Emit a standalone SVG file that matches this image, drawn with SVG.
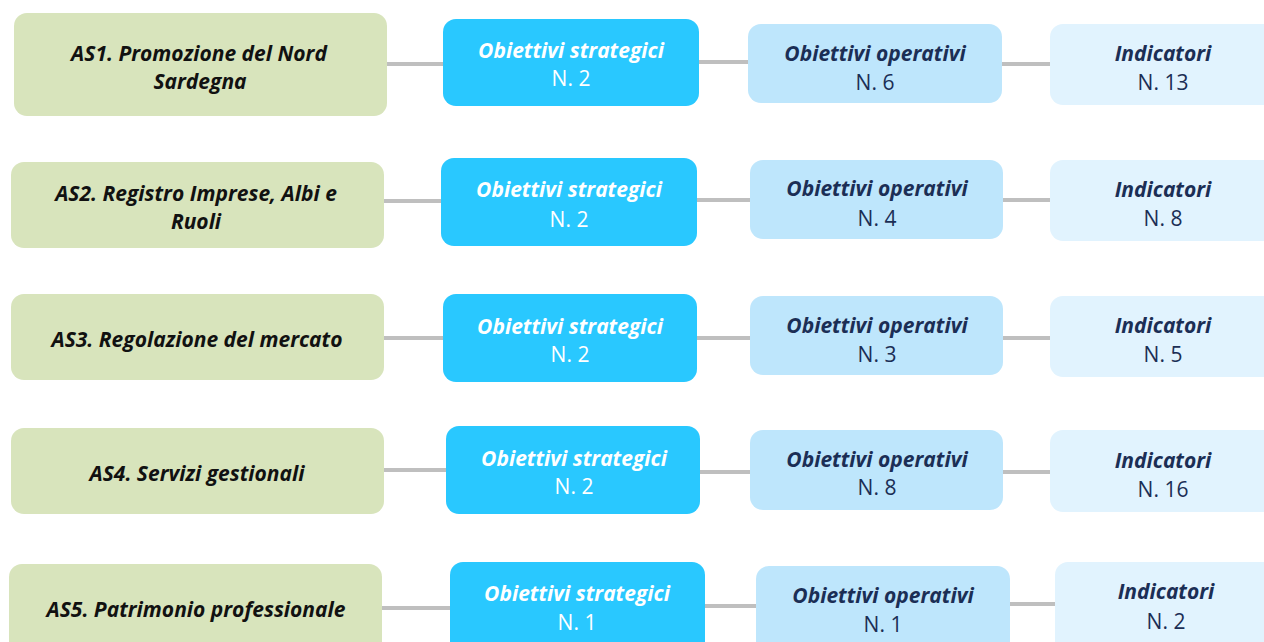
<svg xmlns="http://www.w3.org/2000/svg" width="1264" height="642" viewBox="0 0 1264 642">
<style>
.g{fill:#D8E4BC}
.s{fill:#29C8FF}
.o{fill:#BEE6FC}
.i{fill:#E1F3FE}
.c{stroke:#BFBFBF;stroke-width:4;fill:none}
text{font-family:"Open Sans","Noto Sans",sans-serif;text-anchor:middle;font-size:21px}
.tg{font-weight:bold;font-style:italic;fill:#111}
.ts{font-weight:bold;font-style:italic;fill:#fff}
.ns{fill:#fff}
.to{font-weight:bold;font-style:italic;fill:#1B2E55}
.no{fill:#1B2E55}
</style>
<rect width="1264" height="642" fill="#fff"/>
<g id="connectors">
<line class="c" x1="387" y1="64" x2="443" y2="64"/>
<line class="c" x1="699" y1="62" x2="748" y2="62"/>
<line class="c" x1="1002" y1="64" x2="1050" y2="64"/>
<line class="c" x1="384" y1="201" x2="441" y2="201"/>
<line class="c" x1="697" y1="200" x2="750" y2="200"/>
<line class="c" x1="1003" y1="200" x2="1050" y2="200"/>
<line class="c" x1="384" y1="338" x2="443" y2="338"/>
<line class="c" x1="697" y1="338" x2="750" y2="338"/>
<line class="c" x1="1003" y1="338" x2="1050" y2="338"/>
<line class="c" x1="384" y1="470" x2="446" y2="470"/>
<line class="c" x1="700" y1="472" x2="750" y2="472"/>
<line class="c" x1="1003" y1="472" x2="1050" y2="472"/>
<line class="c" x1="382" y1="608" x2="450" y2="608"/>
<line class="c" x1="705" y1="606" x2="756" y2="606"/>
<line class="c" x1="1010" y1="604" x2="1055" y2="604"/>
</g>
<g id="as1"><rect class="g" x="14" y="13" width="373" height="103" rx="13"/><text class="tg" x="199" y="61">AS1. Promozione del Nord</text><text class="tg" x="200" y="89">Sardegna</text></g>
<g id="os1"><rect class="s" x="443" y="19" width="256" height="87" rx="13"/><text class="ts" x="571" y="58">Obiettivi strategici</text><text class="ns" x="571" y="86">N. 2</text></g>
<g id="oo1"><rect class="o" x="748" y="24" width="254" height="79" rx="13"/><text class="to" x="875" y="61">Obiettivi operativi</text><text class="no" x="875" y="90">N. 6</text></g>
<g id="in1"><rect class="i" x="1050" y="24" width="230" height="81" rx="13"/><text class="to" x="1163" y="61">Indicatori</text><text class="no" x="1163" y="90">N. 13</text></g>

<g id="as2"><rect class="g" x="11" y="162" width="373" height="86" rx="13"/><text class="tg" x="196" y="201">AS2. Registro Imprese, Albi e</text><text class="tg" x="196" y="229">Ruoli</text></g>
<g id="os2"><rect class="s" x="441" y="158" width="256" height="88" rx="13"/><text class="ts" x="569" y="197">Obiettivi strategici</text><text class="ns" x="569" y="227">N. 2</text></g>
<g id="oo2"><rect class="o" x="750" y="160" width="253" height="79" rx="13"/><text class="to" x="877" y="196">Obiettivi operativi</text><text class="no" x="877" y="226">N. 4</text></g>
<g id="in2"><rect class="i" x="1050" y="160" width="230" height="81" rx="13"/><text class="to" x="1163" y="197">Indicatori</text><text class="no" x="1163" y="226">N. 8</text></g>

<g id="as3"><rect class="g" x="11" y="294" width="373" height="86" rx="13"/><text class="tg" x="197" y="347">AS3. Regolazione del mercato</text></g>
<g id="os3"><rect class="s" x="443" y="294" width="254" height="88" rx="13"/><text class="ts" x="570" y="334">Obiettivi strategici</text><text class="ns" x="570" y="362">N. 2</text></g>
<g id="oo3"><rect class="o" x="750" y="296" width="253" height="79" rx="13"/><text class="to" x="877" y="333">Obiettivi operativi</text><text class="no" x="877" y="362">N. 3</text></g>
<g id="in3"><rect class="i" x="1050" y="296" width="230" height="81" rx="13"/><text class="to" x="1163" y="333">Indicatori</text><text class="no" x="1163" y="362">N. 5</text></g>

<g id="as4"><rect class="g" x="11" y="428" width="373" height="86" rx="13"/><text class="tg" x="197" y="481">AS4. Servizi gestionali</text></g>
<g id="os4"><rect class="s" x="446" y="426" width="254" height="88" rx="13"/><text class="ts" x="574" y="466">Obiettivi strategici</text><text class="ns" x="574" y="494">N. 2</text></g>
<g id="oo4"><rect class="o" x="750" y="430" width="253" height="80" rx="13"/><text class="to" x="877" y="467">Obiettivi operativi</text><text class="no" x="877" y="495">N. 8</text></g>
<g id="in4"><rect class="i" x="1050" y="430" width="230" height="82" rx="13"/><text class="to" x="1163" y="468">Indicatori</text><text class="no" x="1163" y="497">N. 16</text></g>

<g id="as5"><rect class="g" x="9" y="564" width="373" height="100" rx="13"/><text class="tg" x="196" y="617">AS5. Patrimonio professionale</text></g>
<g id="os5"><rect class="s" x="450" y="562" width="255" height="100" rx="13"/><text class="ts" x="577" y="601">Obiettivi strategici</text><text class="ns" x="577" y="630">N. 1</text></g>
<g id="oo5"><rect class="o" x="756" y="566" width="254" height="100" rx="13"/><text class="to" x="883" y="603">Obiettivi operativi</text><text class="no" x="883" y="632">N. 1</text></g>
<g id="in5"><rect class="i" x="1055" y="562" width="230" height="100" rx="13"/><text class="to" x="1166" y="599">Indicatori</text><text class="no" x="1166" y="629">N. 2</text></g>
</svg>
